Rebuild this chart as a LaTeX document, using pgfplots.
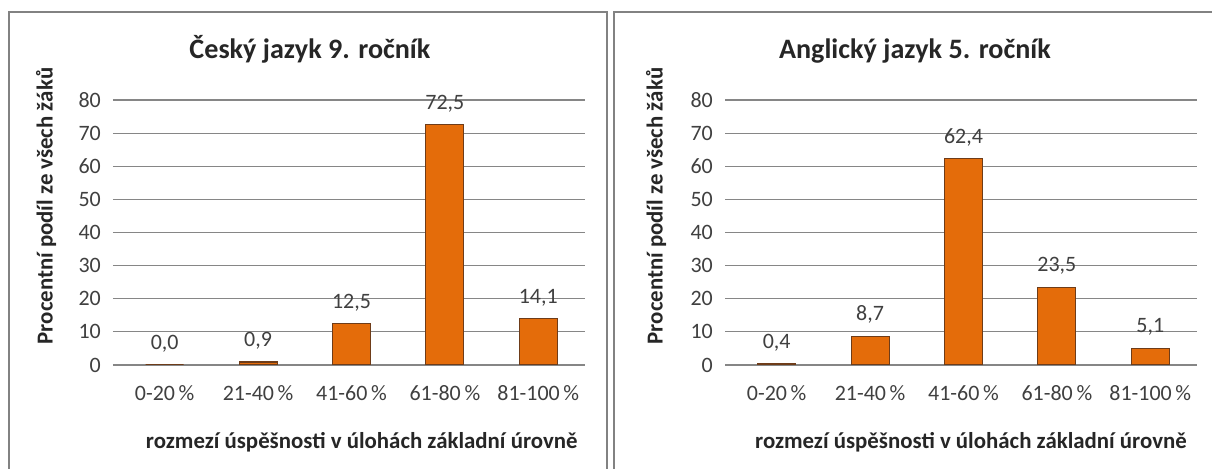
\documentclass[border=0pt]{standalone}
\usepackage{fontspec}
\setmainfont{Carlito}
\usepackage{pgfplots}
\pgfplotsset{compat=1.18}
\definecolor{barfill}{RGB}{228,108,10}
\definecolor{baredge}{RGB}{110,60,25}
\definecolor{gridgray}{RGB}{134,134,134}
\definecolor{txtgray}{RGB}{64,64,64}
\definecolor{framegray}{RGB}{130,130,130}

\tikzset{
  lbl/.style={font=\fontsize{13}{15}\selectfont\bfseries, text=black!85, anchor=center},
  ttl/.style={font=\fontsize{16}{18}\selectfont\bfseries, text=black!85, anchor=base},
}

\pgfplotsset{
  skillchart/.style={
    ybar, scale only axis, height=5.3cm, width=9.34cm,
    ymin=0, ymax=80, xmin=-0.5, xmax=4.5,
    bar width=0.76cm,
    axis x line*=bottom, axis y line*=left,
    y axis line style={draw=none},
    x axis line style={gridgray, line width=0.8pt},
    ytick={0,10,...,80}, ymajorgrids,
    grid style={gridgray, line width=0.7pt},
    tick align=outside, major tick length=0.1cm,
    ytick style={gridgray, line width=0.7pt},
    xtick={0,...,4},
    xticklabels={0-20\,\%, 21-40\,\%, 41-60\,\%, 61-80\,\%, 81-100\,\%},
    xtick style={draw=none},
    extra x ticks={-0.5,0.5,1.5,2.5,3.5,4.5},
    extra x tick labels={},
    extra x tick style={xtick style={gridgray, line width=0.7pt}},
    /pgf/number format/assume math mode=true,
    tick label style={font=\fontsize{12.5}{14}\selectfont, text=txtgray},
    yticklabel style={xshift=-0.12cm},
    xticklabel style={yshift=-0.18cm},
    xlabel={rozmezí úspěšnosti v úlohách základní úrovně},
    ylabel={Procentní podíl ze všech žáků},
    nodes near coords={\pgfmathprintnumber[fixed,fixed zerofill,precision=1,use comma]{\pgfplotspointmeta}},
    every node near coord/.append style={font=\fontsize{12.5}{14}\selectfont, text=txtgray, yshift=0.12cm},
  },
}

\begin{document}
\begin{tikzpicture}
\useasboundingbox (0,0) rectangle (24.24,9.38);
\clip (0,0) rectangle (24.24,9.38);
\fill[white] (0,0) rectangle (24.24,9.38);
% panel frames
\draw[framegray, line width=0.03cm] (0.18,-0.5) rectangle (12.14,9.14);
\draw[framegray, line width=0.03cm] (12.28,-0.5) rectangle (24.6,9.14);

\begin{axis}[skillchart,
    at={(2.36cm,2.08cm)}, anchor=south west,
    title={Český jazyk 9. ročník},
    every axis title/.style={at={(axis description cs:0.411,1.155)}, ttl},
    every axis y label/.style={at={(axis description cs:-0.154,0.6)}, rotate=90, lbl},
    every axis x label/.style={at={(axis description cs:0.522,-0.29)}, lbl}]
\addplot[fill=barfill, draw=baredge, line width=0.6pt]
  coordinates {(0,0.0) (1,0.9) (2,12.5) (3,72.5) (4,14.1)};
\end{axis}

\begin{axis}[skillchart,
    at={(14.6cm,2.08cm)}, anchor=south west,
    title={Anglický jazyk 5. ročník},
    every axis title/.style={at={(axis description cs:0.396,1.155)}, ttl},
    every axis y label/.style={at={(axis description cs:-0.158,0.6)}, rotate=90, lbl},
    every axis x label/.style={at={(axis description cs:0.516,-0.29)}, lbl}]
\addplot[fill=barfill, draw=baredge, line width=0.6pt]
  coordinates {(0,0.4) (1,8.7) (2,62.4) (3,23.5) (4,5.1)};
\end{axis}
\end{tikzpicture}
\end{document}
